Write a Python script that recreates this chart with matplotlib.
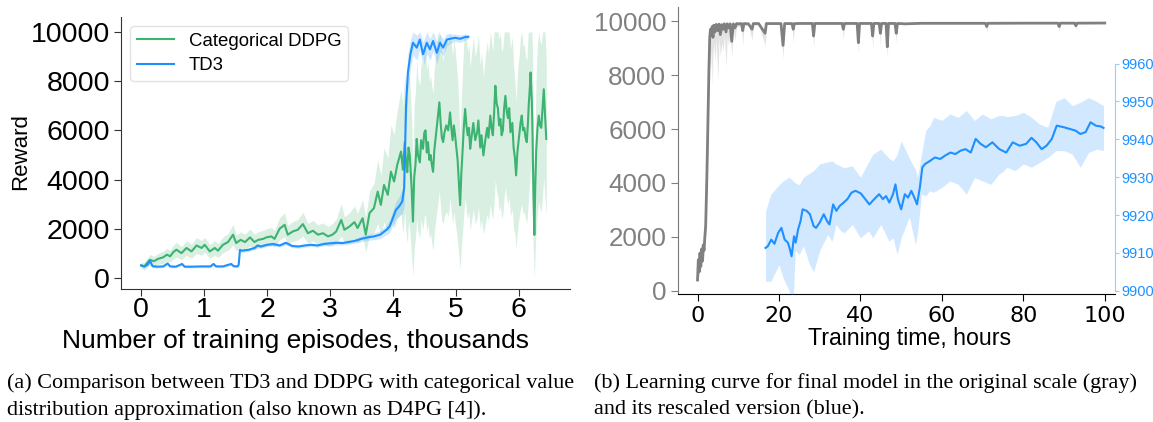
import numpy as np
import matplotlib
matplotlib.use("Agg")
import matplotlib.pyplot as plt

SANS = "Liberation Sans"
SERIF = "Liberation Serif"

# ---- (a) episodes vs reward ----
ddpg_x = [0.00, 0.05, 0.09, 0.14, 0.20, 0.27, 0.35, 0.41, 0.46, 0.51, 0.56, 0.64, 0.72, 0.80,
          0.88, 0.96, 1.01, 1.09, 1.17, 1.22, 1.30, 1.38, 1.46, 1.51, 1.58, 1.65, 1.73, 1.80,
          1.86, 1.94, 1.99, 2.07, 2.12, 2.20, 2.28, 2.33, 2.41, 2.49, 2.57, 2.65, 2.73, 2.81,
          2.89, 2.97, 3.04, 3.10, 3.18, 3.23, 3.31, 3.39, 3.44, 3.52, 3.57, 3.63, 3.70, 3.76,
          3.81, 3.86, 3.92, 3.97, 4.02, 4.07,
          4.13, 4.16, 4.19, 4.21, 4.23, 4.25, 4.27, 4.30, 4.32, 4.34, 4.36, 4.38, 4.40, 4.43,
          4.45, 4.48, 4.50, 4.52, 4.54, 4.56, 4.58, 4.60, 4.62, 4.64, 4.66, 4.69, 4.71, 4.74,
          4.76, 4.78, 4.80, 4.82, 4.85, 4.88, 4.91, 4.93, 4.95, 4.97, 4.99, 5.01, 5.03, 5.05,
          5.07, 5.09, 5.11, 5.13, 5.15, 5.17, 5.19, 5.21, 5.23, 5.25, 5.28, 5.31, 5.34, 5.36,
          5.39, 5.41, 5.44, 5.47, 5.50, 5.52, 5.55, 5.57, 5.59, 5.61, 5.63, 5.65, 5.67, 5.69,
          5.71, 5.73, 5.75, 5.77, 5.79, 5.81, 5.83, 5.85, 5.87, 5.90, 5.92, 5.94, 5.96, 5.98,
          6.01, 6.03, 6.05, 6.07, 6.09, 6.11, 6.13, 6.15, 6.16, 6.18, 6.19, 6.21, 6.22, 6.235,
          6.25, 6.265, 6.28, 6.30, 6.32, 6.34, 6.36, 6.38, 6.40, 6.42, 6.44]
ddpg_reward = [510, 470, 600, 740, 680, 780, 840, 950, 880, 1050, 1150, 1010, 1220, 1080,
               1320, 1220, 1350, 1080, 1220, 1110, 1350, 1460, 1760, 1420, 1550, 1460, 1650, 1460,
               1550, 1590, 1650, 1690, 1590, 2000, 2160, 1760, 1890, 1960, 2190, 1820, 1920, 1760,
               1820, 1690, 1760, 1890, 2360, 1960, 2090, 2270, 2030, 2430, 1760, 2640, 2840, 3510,
               2970, 3780, 3380, 4320, 3920, 4590,
               5140, 4400, 5520, 4700, 4300, 5300, 4980, 3600, 2290, 4100, 4600, 5650, 5000, 4700,
               5600, 5250, 5900, 6000, 5100, 5520, 4800, 5000, 4600, 4310, 5200, 5900, 6400, 7140,
               6300, 5700, 5520, 5900, 6200, 6000, 6730, 6100, 5600, 6200, 5790, 5300, 4800, 3900,
               2960, 4300, 5200, 6200, 6870, 6200, 5800, 6100, 5250, 5700, 6300, 5600, 5920, 6400,
               5300, 5800, 4980, 5600, 6100, 5700, 6600, 6100, 5800, 6700, 7810, 7100, 6900, 6200,
               6460, 5800, 6000, 6900, 7400, 6800, 6500, 6900, 5920, 6300, 5300, 4900, 4170, 5100,
               5800, 6300, 6600, 6000, 6100, 5700, 5520, 6400, 7000, 7800, 8350, 7200, 6000, 3500,
               1750, 3800, 5200, 6100, 6600, 6200, 6100, 6900, 7670, 6600, 5650]
ddpg_std = [120, 150, 180, 220, 200, 220, 250, 260, 240, 280, 300, 260, 300, 280,
            320, 300, 300, 280, 300, 280, 320, 340, 420, 320, 330, 320, 340, 320,
            330, 340, 350, 360, 340, 450, 480, 380, 400, 420, 480, 400, 420, 400,
            420, 400, 450, 500, 650, 520, 560, 650, 600, 750, 700, 900, 1000, 1300,
            1200, 1500, 1500, 1900, 1900, 2200,
            2500, 2600, 2800, 2800, 2900, 3000, 3000, 2800, 2200, 2900, 3000, 3200, 3100, 3100,
            3200, 3300, 3400, 3400, 3300, 3300, 3200, 3200, 3200, 3200, 3300, 3400, 3500, 3600,
            3500, 3400, 3300, 3400, 3500, 3500, 3500, 3400, 3400, 3500, 3500, 3400, 3300, 3000,
            2600, 3000, 3300, 3500, 3600, 3500, 3400, 3400, 3300, 3400, 3500, 3400, 3500, 3500,
            3300, 3400, 3200, 3400, 3500, 3400, 3600, 3500, 3400, 3600, 3800, 3600, 3600, 3500,
            3500, 3400, 3400, 3600, 3700, 3600, 3500, 3600, 3400, 3500, 3300, 3100, 3000, 3200,
            3300, 3500, 3600, 3400, 3400, 3300, 3300, 3500, 3600, 3700, 3800, 3600, 3300, 2500,
            1750, 2600, 3200, 3400, 3500, 3400, 3400, 3500, 3600, 3400, 3100]

td3_x = [0.00, 0.05, 0.10, 0.14, 0.18, 0.25, 0.35, 0.42, 0.46, 0.55, 0.65, 0.69, 0.80, 0.95,
         1.10, 1.15, 1.19, 1.30, 1.43, 1.47, 1.53, 1.55, 1.57, 1.60, 1.70, 1.80, 1.85, 1.90,
         2.00, 2.10, 2.20, 2.30, 2.40, 2.50, 2.60, 2.70, 2.80, 2.90, 3.00, 3.10, 3.20, 3.30,
         3.40, 3.50, 3.60, 3.70, 3.80, 3.90, 3.95, 4.00, 4.05, 4.10, 4.15, 4.18, 4.21, 4.24,
         4.28, 4.32, 4.38, 4.43, 4.48, 4.54, 4.59, 4.64, 4.70, 4.75, 4.80, 4.86, 4.91, 4.99,
         5.07, 5.15, 5.20]
td3_reward = [510, 470, 540, 700, 480, 460, 470, 590, 470, 460, 570, 460, 460, 470,
              470, 570, 470, 470, 570, 480, 470, 540, 1140, 1110, 1140, 1220, 1320, 1280,
              1350, 1380, 1320, 1430, 1300, 1280, 1320, 1350, 1320, 1380, 1410, 1430, 1420, 1460,
              1510, 1590, 1650, 1690, 1760, 1960, 2090, 2430, 2770, 2910, 3110, 3650, 7000, 8350,
              9090, 9560, 9360, 9690, 9090, 9560, 9290, 9630, 9150, 9560, 9360, 9690, 9720, 9760,
              9720, 9790, 9800]
td3_std = [60, 60, 60, 80, 60, 50, 50, 60, 50, 50, 60, 50, 50, 50,
           50, 60, 50, 50, 60, 50, 50, 60, 80, 70, 70, 70, 80, 70,
           70, 70, 70, 80, 70, 70, 70, 70, 70, 80, 80, 80, 80, 90,
           100, 110, 120, 140, 160, 200, 250, 300, 350, 400, 500, 700, 900, 800,
           600, 500, 500, 400, 500, 450, 450, 400, 450, 350, 350, 250, 200, 150,
           150, 120, 100]

# ---- (b) training time vs reward ----
gray_hours = [0.0, 0.2, 0.4, 0.6, 0.8, 1.0, 1.2, 1.4, 1.6, 1.8, 2.0, 2.2, 2.4, 2.6, 2.8, 3.0,
              3.2, 3.4, 3.6, 3.8, 4.0, 4.3, 4.6, 5.0, 5.3, 5.6, 6.0, 6.3, 6.6, 7.0, 7.3, 7.6,
              8.0, 8.4, 8.8, 9.2, 9.6, 10.0, 10.8, 11.1, 11.4, 12.5, 13.4, 13.7, 15.0, 16.6,
              16.9, 18.5, 20.5, 21.0, 21.4, 23.2, 23.5, 23.8, 26.0, 28.2, 28.5, 28.8, 32.0, 35.5,
              35.8, 36.1, 39.2, 39.5, 39.8, 42.7, 43.0, 43.3, 44.6, 44.9, 45.2, 46.3, 46.6, 46.9,
              48.5, 48.8, 49.1, 51.0, 55.0, 60.0, 65.0, 70.7, 71.0, 71.3, 80.0, 88.5, 88.8, 89.1,
              92.6, 92.9, 93.2, 100.0]
gray_reward = [400, 1150, 700, 1400, 900, 1550, 1100, 1700, 1500, 2000, 2400, 3600, 5000, 6600,
               8200, 9400, 9700, 9500, 9800, 9400, 9850, 9600, 9880, 9650, 9890, 9500, 9870, 9700,
               9900, 9600, 9900, 9750, 9900, 9250, 9900, 9750, 9910, 9900, 9910, 9650, 9910, 9900,
               9700, 9910, 9910, 9550, 9910, 9910, 9910, 9100, 9910, 9910, 9700, 9910, 9915, 9915,
               9450, 9915, 9915, 9915, 9700, 9915, 9915, 9200, 9915, 9915, 9450, 9915, 9915, 9550,
               9915, 9915, 9050, 9915, 9915, 9550, 9915, 9900, 9920, 9920, 9920, 9920, 9800, 9920,
               9925, 9925, 9800, 9925, 9925, 9830, 9925, 9930]
gray_low = [300, 700, 500, 1000, 700, 1200, 900, 1300, 1200, 1600, 2000, 3000, 4300, 5800,
            7400, 8600, 8200, 9000, 7600, 8800, 9200, 8500, 9300, 7800, 9400, 8700, 9200, 8900,
            9500, 8300, 9500, 9100, 9600, 8700, 9700, 9300, 9800, 9800, 9800, 9100, 9850, 9850,
            9300, 9850, 9880, 9100, 9880, 9880, 9880, 8600, 9880, 9880, 9200, 9880, 9890, 9890,
            9000, 9890, 9890, 9890, 9300, 9890, 9890, 8800, 9890, 9890, 9000, 9890, 9890, 9100,
            9890, 9890, 8600, 9890, 9890, 9200, 9890, 9880, 9900, 9900, 9900, 9900, 9600, 9900,
            9910, 9910, 9600, 9910, 9910, 9700, 9910, 9920]

final_hours = [16.7, 17.3, 18.1, 18.9, 19.8, 20.6, 21.4, 22.2, 22.7, 23.1, 23.7, 24.1, 24.7,
               25.3, 25.8, 26.8, 27.6, 28.5, 29.1, 30.0, 31.0, 31.8, 32.4, 33.3, 34.1, 34.9,
               35.9, 36.8, 37.8, 38.8, 40.1, 40.9, 42.2, 43.4, 44.6, 45.5, 46.3, 47.1, 48.0,
               48.6, 49.2, 50.0, 50.9, 51.7, 52.5, 53.4, 53.9, 54.6, 55.2, 55.9, 57.1, 58.3,
               59.6, 60.8, 62.1, 63.3, 64.6, 65.8, 67.1, 68.3, 69.5, 70.8, 72.4, 74.1, 75.8,
               77.4, 79.1, 80.7, 82.0, 83.2, 84.5, 85.7, 87.0, 88.2, 89.9, 91.5, 92.8, 94.0,
               95.3, 96.5, 97.8, 99.0, 99.7]
final_reward = [9911.3, 9911.8, 9913.5, 9912.4, 9915.3, 9916.6, 9913.5, 9912.7, 9910.9, 9909.1,
                9914.4, 9912.7, 9916.2, 9918.4, 9921.5, 9921.1, 9920.2, 9917.1, 9916.6, 9918.0,
                9920.2, 9918.4, 9917.5, 9922.8, 9921.1, 9922.4, 9923.3, 9924.2, 9925.9, 9926.4,
                9925.7, 9924.6, 9922.8, 9924.2, 9925.5, 9924.2, 9925.0, 9923.3, 9925.5, 9928.1,
                9924.2, 9921.5, 9925.5, 9924.6, 9926.4, 9924.2, 9922.8, 9927.3, 9932.6, 9933.5,
                9934.3, 9935.2, 9934.8, 9935.7, 9936.5, 9936.1, 9937.0, 9937.4, 9936.5, 9940.1,
                9938.8, 9937.9, 9939.2, 9937.4, 9936.5, 9939.2, 9938.3, 9938.8, 9940.4, 9939.2,
                9937.4, 9938.3, 9940.1, 9943.6, 9943.2, 9942.7, 9942.3, 9941.4, 9941.9, 9944.5,
                9943.6, 9943.4, 9943.0]

band_hours = [16.7, 18.0, 20.0, 21.0, 22.5, 23.5, 24.0, 25.0, 26.0, 27.5, 28.5, 30.0, 32.0,
              33.0, 34.0, 35.0, 36.0, 38.0, 40.0, 42.0, 43.0, 45.0, 47.0, 48.0, 49.0, 50.0,
              52.0, 53.5, 54.0, 55.0, 56.0, 57.0, 58.0, 60.0, 62.0, 64.0, 66.0, 68.0, 70.0,
              72.0, 74.0, 75.0, 76.0, 78.0, 80.0, 82.0, 84.0, 86.0, 88.0, 90.0, 92.0, 94.0,
              96.0, 98.0, 99.7]
band_high = [9921.0, 9925.5, 9928.0, 9929.0, 9930.0, 9929.0, 9928.5, 9928.0, 9930.0, 9931.0,
             9931.7, 9933.5, 9934.0, 9934.3, 9933.5, 9933.0, 9932.5, 9933.0, 9930.0, 9934.0,
             9936.0, 9937.4, 9935.0, 9934.3, 9936.0, 9939.6, 9935.0, 9932.0, 9930.0, 9936.0,
             9942.3, 9943.5, 9945.8, 9945.0, 9946.7, 9945.8, 9947.6, 9945.0, 9946.7, 9945.4,
             9946.3, 9946.3, 9946.0, 9946.3, 9947.1, 9945.8, 9944.0, 9943.2, 9950.0, 9951.0,
             9948.9, 9949.8, 9951.0, 9950.0, 9948.9]
band_low = [9902.5, 9902.5, 9906.9, 9903.4, 9900.0, 9897.5, 9910.6, 9909.6, 9911.9, 9906.9,
            9905.0, 9910.6, 9914.9, 9913.0, 9917.5, 9916.0, 9915.3, 9917.5, 9914.0, 9915.8,
            9914.0, 9917.5, 9913.1, 9914.0, 9909.6, 9914.0, 9919.5, 9912.2, 9915.0, 9925.5,
            9925.0, 9926.4, 9926.0, 9927.3, 9929.0, 9928.1, 9925.5, 9929.9, 9929.0, 9928.1,
            9930.8, 9931.5, 9932.6, 9931.7, 9933.5, 9932.6, 9933.9, 9935.2, 9937.0, 9937.0,
            9936.1, 9932.6, 9936.5, 9937.4, 9937.0]

GREEN = "mediumseagreen"
BLUE = "dodgerblue"

fig = plt.figure(figsize=(11.53, 4.22), dpi=100)

# left panel
ax = fig.add_axes([0.105, 0.315, 0.389, 0.645])
ddpg_mean = np.array(ddpg_reward)
ddpg_sd = np.array(ddpg_std)
td3_mean = np.array(td3_reward)
td3_sd = np.array(td3_std)
ax.fill_between(ddpg_x, np.clip(ddpg_mean - ddpg_sd, 0, None),
                np.clip(ddpg_mean + ddpg_sd, None, 10000), color=GREEN, alpha=0.2, lw=0)
ax.fill_between(td3_x, td3_mean - td3_sd, np.clip(td3_mean + td3_sd, None, 10000),
                color=BLUE, alpha=0.2, lw=0)
ax.plot(ddpg_x, ddpg_mean, color=GREEN, lw=1.5, label="Categorical DDPG")
ax.plot(td3_x, td3_mean, color=BLUE, lw=1.5, label="TD3")
ax.set_xlim(-0.32, 6.81)
ax.set_ylim(-450, 10610)
ax.set_xticks(range(7))
ax.set_yticks(range(0, 10001, 2000))
for s in ["top", "right"]:
    ax.spines[s].set_visible(False)
for s in ["left", "bottom"]:
    ax.spines[s].set_color("#333333")
ax.tick_params(colors="#333333", labelcolor="black", length=5)
ax.tick_params(axis="x", pad=1)
ax.tick_params(axis="y", pad=3)
for lab in ax.get_xticklabels() + ax.get_yticklabels():
    lab.set_fontfamily(SANS)
    lab.set_fontsize(20.5)
ax.set_xlabel("Number of training episodes, thousands", fontfamily=SANS, fontsize=19)
ax.xaxis.set_label_coords(0.388, -0.148)
ax.set_ylabel("Reward", fontfamily=SANS, fontsize=16)
ax.yaxis.set_label_coords(-0.2, 0.507)
leg = ax.legend(loc="upper left", bbox_to_anchor=(0.02, 0.965), borderaxespad=0,
                prop={"family": SANS, "size": 13.4}, frameon=True,
                labelspacing=0.4, borderpad=0.35)
leg.get_frame().set_edgecolor("#dddddd")

# right panel: original scale (gray) + rescaled (blue) on a twin axis
bx = fig.add_axes([0.588, 0.303, 0.379, 0.680])
bx.fill_between(gray_hours, gray_low, gray_reward, color="#e3e3e3", lw=0)
bx.plot(gray_hours, gray_reward, color="gray", lw=2)
bx.set_xlim(-4.8, 102.5)
bx.set_ylim(-123, 10518)
bx.set_xticks(range(0, 101, 20))
bx.set_yticks(range(0, 10001, 2000))
for s in ["top", "right"]:
    bx.spines[s].set_visible(False)
bx.spines["left"].set_color("#777777")
bx.spines["bottom"].set_color("black")
bx.tick_params(axis="y", colors="gray", labelcolor="gray", length=5)
bx.tick_params(axis="x", colors="black", length=5)
for lab in bx.get_yticklabels():
    lab.set_fontfamily(SANS)
    lab.set_fontsize(18.7)
for lab in bx.get_xticklabels():
    lab.set_fontfamily("DejaVu Sans")
    lab.set_fontsize(16)
bx.set_xlabel("Training time, hours", fontfamily=SANS, fontsize=16.7)
bx.xaxis.set_label_coords(0.531, -0.115)

tx = bx.twinx()
tx.fill_between(band_hours, band_low, band_high, color=BLUE, alpha=0.2, lw=0)
tx.plot(final_hours, final_reward, color=BLUE, lw=1.5)
tx.set_ylim(9899.1, 9974.9)
tx.set_yticks(range(9900, 9961, 10))
for s in ["top", "left", "bottom"]:
    tx.spines[s].set_visible(False)
tx.spines["right"].set_color("#99ccff")
tx.spines["right"].set_bounds(9900, 9960)
tx.tick_params(axis="y", colors="#99ccff", labelcolor=BLUE, length=3, pad=1.5)
for lab in tx.get_yticklabels():
    lab.set_fontfamily(SANS)
    lab.set_fontsize(10.5)

# captions
cap = dict(fontfamily=SERIF, fontsize=15.9, va="center", ha="left")
fig.text(7 / 1153, 1 - 383 / 422, "(a) Comparison between TD3 and DDPG with categorical value", **cap)
fig.text(7 / 1153, 1 - 410 / 422, "distribution approximation (also known as D4PG [4]).", **cap)
fig.text(594 / 1153, 1 - 383 / 422, "(b) Learning curve for final model in the original scale (gray)", **cap)
fig.text(594 / 1153, 1 - 410 / 422, "and its rescaled version (blue).", **cap)

fig.savefig("out.png", dpi=100)
